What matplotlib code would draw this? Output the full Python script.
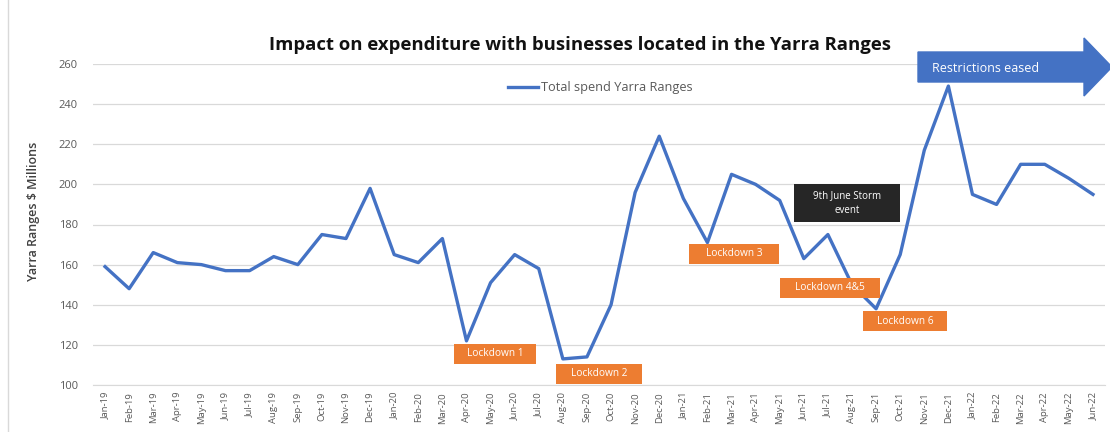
import matplotlib.pyplot as plt
from matplotlib.patches import FancyArrow, Rectangle

months = ["Jan-19", "Feb-19", "Mar-19", "Apr-19", "May-19", "Jun-19", "Jul-19", "Aug-19",
          "Sep-19", "Oct-19", "Nov-19", "Dec-19", "Jan-20", "Feb-20", "Mar-20", "Apr-20",
          "May-20", "Jun-20", "Jul-20", "Aug-20", "Sep-20", "Oct-20", "Nov-20", "Dec-20",
          "Jan-21", "Feb-21", "Mar-21", "Apr-21", "May-21", "Jun-21", "Jul-21", "Aug-21",
          "Sep-21", "Oct-21", "Nov-21", "Dec-21", "Jan-22", "Feb-22", "Mar-22", "Apr-22",
          "May-22", "Jun-22"]
spend = [159, 148, 166, 161, 160, 157, 157, 164, 160, 175, 173, 198,
         165, 161, 173, 122, 151, 165, 158, 113, 114, 140, 196, 224,
         193, 171, 205, 200, 192, 163, 175, 150, 138, 165, 217, 249,
         195, 190, 210, 210, 203, 195]

# lockdown labels: (text, centre in months, centre value, box width in months)
lockdowns = [("Lockdown 1", 16.2, 115.5, 3.4),
             ("Lockdown 2", 20.5, 105.5, 3.6),
             ("Lockdown 3", 26.1, 165.3, 3.7),
             ("Lockdown 4&5", 30.1, 148.4, 4.15),
             ("Lockdown 6", 33.2, 131.9, 3.5)]

blue = "#4472C4"
orange = "#ED7D31"
grey = "#595959"

plt.rcParams["font.family"] = ["Open Sans", "DejaVu Sans"]

fig = plt.figure(figsize=(11.1, 4.32), dpi=100)
ax = fig.add_axes([93 / 1110, 1 - 385 / 432, 1012 / 1110, (385 - 64) / 432])

x = list(range(len(months)))
ax.plot(x, spend, color=blue, linewidth=2.4, label="Total spend Yarra Ranges")

ax.set_xlim(-0.5, len(months) - 0.5)
ax.set_ylim(100, 260)
ax.set_yticks(range(100, 261, 20))
ax.set_xticks(x)
ax.set_xticklabels(months, rotation=90, fontsize=6.8, color=grey)
ax.tick_params(axis="y", length=0, pad=11, labelsize=8, labelcolor=grey)
ax.tick_params(axis="x", length=0, pad=5)
ax.grid(axis="y", color="#D9D9D9", linewidth=0.9)
ax.set_axisbelow(True)
for s in ["top", "right", "left"]:
    ax.spines[s].set_visible(False)
ax.spines["bottom"].set_color("#D9D9D9")

ax.set_ylabel("Yarra Ranges $ Millions", fontsize=9, color="#404040",
              fontweight="semibold")
ax.yaxis.set_label_coords(-0.052, 0.54)
fig.text(580 / 1110, 1 - 45 / 432, "Impact on expenditure with businesses located in the Yarra Ranges",
         ha="center", va="center", fontsize=13.3, fontweight="bold", color="#111111")

ax.legend(loc="center", bbox_to_anchor=(0.501, 1 - (88 - 64) / 321), frameon=False,
          fontsize=9.2, labelcolor=grey, handlelength=2.4, handletextpad=0.2)

for text, xi, yv, w in lockdowns:
    ax.add_patch(Rectangle((xi - w / 2, yv - 5), w, 10, facecolor=orange,
                           edgecolor="none", zorder=3))
    ax.text(xi, yv, text, ha="center", va="center", fontsize=7.3, color="white", zorder=4)

ax.add_patch(Rectangle((30.8 - 2.2, 190.7 - 9.5), 4.4, 19, facecolor="#262626",
                       edgecolor="none", zorder=3))
ax.text(30.8, 190.7, "9th June Storm\nevent", ha="center", va="center", fontsize=7,
        color="white", linespacing=1.6, zorder=4)

# restrictions eased block arrow (pixel positions converted to figure fraction)
arr = FancyArrow(918 / 1110, 1 - 67 / 432, (1084 - 918) / 1110, 0,
                 width=30 / 432, head_width=58 / 432, head_length=28 / 1110,
                 length_includes_head=False, color=blue, transform=fig.transFigure)
fig.patches.append(arr)
fig.text(986 / 1110, 1 - 68 / 432, "Restrictions eased", ha="center", va="center",
         fontsize=9, color="white")

fig.patches.append(Rectangle((8 / 1110, -0.01), 1.1, 1.2, transform=fig.transFigure,
                             fill=False, edgecolor="#D9D9D9", linewidth=1))

fig.savefig("out.png", dpi=100)
